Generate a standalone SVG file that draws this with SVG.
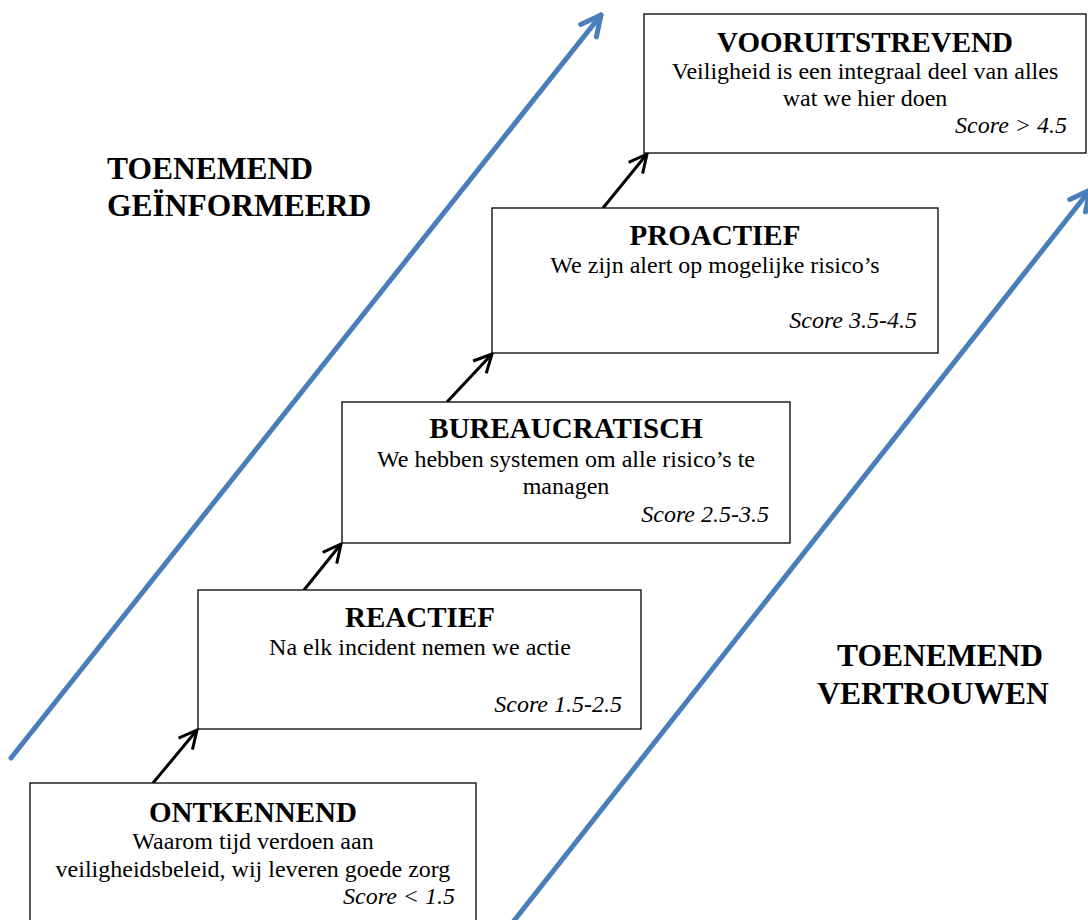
<svg xmlns="http://www.w3.org/2000/svg" width="1088" height="920" viewBox="0 0 1088 920">
<style>
.box{fill:#fff;stroke:#000;stroke-width:1.3}
.t{font-family:"Liberation Serif","Times New Roman",serif;font-weight:bold;font-size:29px;text-anchor:middle;fill:#000}
.b{font-family:"Liberation Serif","Times New Roman",serif;font-size:24px;text-anchor:middle;fill:#000}
.s{font-family:"Liberation Serif","Times New Roman",serif;font-size:24px;font-style:italic;text-anchor:end;fill:#000}
.lbl{font-family:"Liberation Serif","Times New Roman",serif;font-weight:bold;font-size:31.5px;fill:#000}
.blue{stroke:#4A7EBB;stroke-width:5;fill:none;stroke-linecap:round}
.blk{stroke:#000;stroke-width:3;fill:none}
</style>
<defs>
<marker id="bh" markerUnits="userSpaceOnUse" orient="auto" markerWidth="40" markerHeight="40" refX="0" refY="0" viewBox="-30 -20 40 40" overflow="visible">
<path d="M-20,-10 L0,0 L-20,10" fill="none" stroke="#4A7EBB" stroke-width="5" stroke-linecap="round" stroke-linejoin="round"/>
</marker>
<marker id="kh" markerUnits="userSpaceOnUse" orient="auto" markerWidth="40" markerHeight="40" refX="0" refY="0" viewBox="-30 -20 40 40" overflow="visible">
<path d="M-18,-9 L0,0 L-18,9" fill="none" stroke="#000" stroke-width="3" stroke-linejoin="miter"/>
</marker>
</defs>
<g id="connectors">
<line class="blue" x1="11" y1="758" x2="601" y2="15" marker-end="url(#bh)"/>
<line class="blue" x1="513" y1="922" x2="1090" y2="190" marker-end="url(#bh)"/>
<line class="blk" x1="153" y1="783" x2="197" y2="730" marker-end="url(#kh)"/>
<line class="blk" x1="304" y1="590" x2="341" y2="544" marker-end="url(#kh)"/>
<line class="blk" x1="447" y1="402" x2="492" y2="354" marker-end="url(#kh)"/>
<line class="blk" x1="603" y1="208" x2="647" y2="154" marker-end="url(#kh)"/>
</g>
<g id="label-informeerd">
<text class="lbl" x="107" y="179">TOENEMEND</text>
<text class="lbl" x="107" y="216">GEÏNFORMEERD</text>
</g>
<g id="label-vertrouwen">
<text class="lbl" x="940" y="666" text-anchor="middle">TOENEMEND</text>
<text class="lbl" x="933" y="704" text-anchor="middle">VERTROUWEN</text>
</g>
<g id="node-ontkennend">
<rect class="box" x="30" y="783" width="446" height="145"/>
<text class="t" x="253" y="822">ONTKENNEND</text>
<text class="b" x="253" y="849">Waarom tijd verdoen aan</text>
<text class="b" x="253" y="877">veiligheidsbeleid, wij leveren goede zorg</text>
<text class="s" x="455" y="904">Score &lt; 1.5</text>
</g>
<g id="node-reactief">
<rect class="box" x="198" y="590" width="443" height="139"/>
<text class="t" x="420" y="627">REACTIEF</text>
<text class="b" x="420" y="655">Na elk incident nemen we actie</text>
<text class="s" x="622" y="712">Score 1.5-2.5</text>
</g>
<g id="node-bureaucratisch">
<rect class="box" x="342" y="402" width="448" height="141"/>
<text class="t" x="566" y="438">BUREAUCRATISCH</text>
<text class="b" x="566" y="467">We hebben systemen om alle risico’s te</text>
<text class="b" x="566" y="494">managen</text>
<text class="s" x="769" y="522">Score 2.5-3.5</text>
</g>
<g id="node-proactief">
<rect class="box" x="492" y="208" width="446" height="145"/>
<text class="t" x="715" y="245">PROACTIEF</text>
<text class="b" x="715" y="273">We zijn alert op mogelijke risico’s</text>
<text class="s" x="917" y="328">Score 3.5-4.5</text>
</g>
<g id="node-vooruitstrevend">
<rect class="box" x="644" y="14" width="442" height="139"/>
<text class="t" x="865" y="52">VOORUITSTREVEND</text>
<text class="b" x="865" y="79">Veiligheid is een integraal deel van alles</text>
<text class="b" x="865" y="106">wat we hier doen</text>
<text class="s" x="1067" y="133">Score &gt; 4.5</text>
</g>
</svg>
